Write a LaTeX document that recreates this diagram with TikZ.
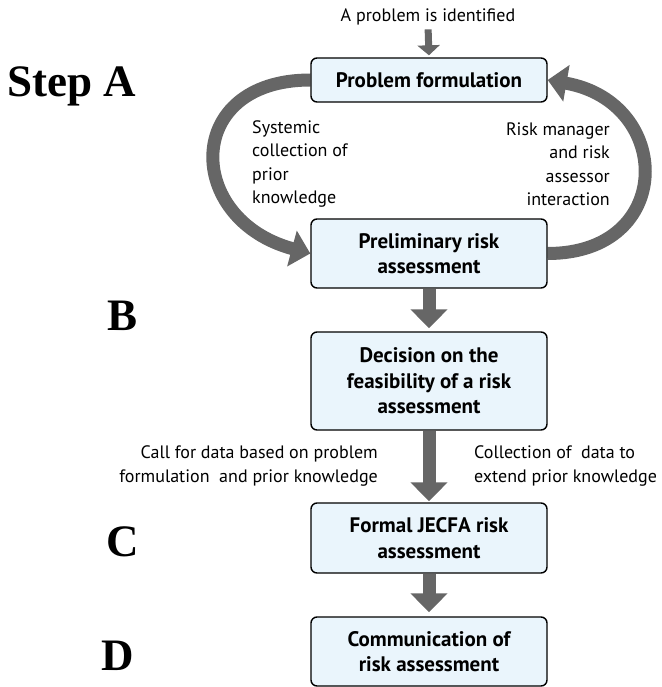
\documentclass[tikz,border=0pt]{standalone}
\usepackage{fontspec}
\setmainfont{PT Sans}
\newfontfamily\serifbold{Liberation Serif}[UprightFont=* Bold]
\usetikzlibrary{arrows.meta,backgrounds}
\definecolor{boxfill}{RGB}{234,245,252}
\definecolor{arrowgray}{RGB}{102,102,102}
\tikzset{
  stepbox/.style={draw=black, line width=1.4pt, fill=boxfill, rounded corners=6pt,
    minimum width=236pt, align=center, inner sep=0pt,
    font=\bfseries\fontsize{21}{25.5}\selectfont},
  steplabel/.style={anchor=base west, inner sep=0pt, font=\serifbold\fontsize{45}{45}\selectfont},
  lbl/.style={inner sep=0pt, font=\fontsize{18}{23.5}\selectfont},
  flow/.style={draw=arrowgray, line width=13pt, -{Triangle[width=36pt,length=19pt]}},
  smallflow/.style={draw=arrowgray, line width=7pt, -{Triangle[width=22pt,length=10pt]}},
}
\begin{document}
\begin{tikzpicture}[x=1pt,y=1pt]
\useasboundingbox (0,0) rectangle (661,-687);
% step labels
\node[steplabel] (stepA) at (7,-97) {Step A};
\node[steplabel] (stepB) at (107,-330) {B};
\node[steplabel] (stepC) at (106,-556) {C};
\node[steplabel] (stepD) at (101,-670) {D};
% boxes
\node[lbl] (start) at (428,-17) {A problem is identified};
\node[stepbox, minimum height=44pt] (pf) at (429,-80) {Problem formulation};
\node[stepbox, minimum height=69pt] (pra) at (429,-253.5) {Preliminary risk\\assessment};
\node[stepbox, minimum height=98pt] (dec) at (429,-381) {Decision on the\\feasibility of a risk\\assessment};
\node[stepbox, minimum height=70pt] (jecfa) at (429,-538) {Formal JECFA risk\\assessment};
\node[stepbox, minimum height=69pt] (comm) at (429,-651.5) {Communication of\\risk assessment};
% labels
\node[lbl, align=left, anchor=west] (lsys) at (252,-164) {Systemic\\collection of\\prior\\knowledge};
\node[lbl, align=right, anchor=east] (lrisk) at (610,-164) {Risk manager\\and risk\\assessor\\interaction};
\node[lbl, align=right, anchor=east] (lcall) at (378,-466) {Call for data based on problem\\formulation\ \ and prior knowledge};
\node[lbl, align=left, anchor=west] (lcoll) at (474,-466) {Collection of\ \ data to\\extend prior knowledge};
% connectors
\begin{pgfonlayer}{background}
\draw[smallflow, shorten <=4pt, shorten >=2pt] (start.south) -- (pf.north);
\draw[flow] (pf.west) .. controls +(-128,0) and +(-126,34) .. (pra.west);
\draw[flow] (pra.east) .. controls +(128,0) and +(126,-22) .. (pf.east);
\draw[flow, shorten >=3pt] (pra.south) -- (dec.north);
\draw[flow, shorten >=1pt] (dec.south) -- (jecfa.north);
\draw[flow, shorten >=4pt] (jecfa.south) -- (comm.north);
\end{pgfonlayer}
\end{tikzpicture}
\end{document}
